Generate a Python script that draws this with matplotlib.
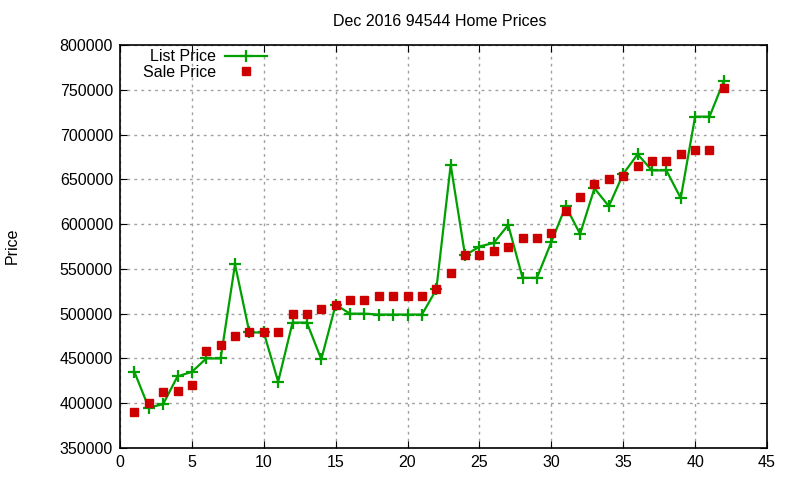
import matplotlib
matplotlib.use("Agg")
import matplotlib.pyplot as plt

# house index 1..42, prices
homes = list(range(1, 43))
list_price = [435000, 395000, 399000, 430000, 435000, 450000, 450000, 555000, 479000, 479000,
              424000, 490000, 490000, 449000, 510000, 500000, 500000, 499000, 499000, 499000,
              499000, 527000, 666000, 565000, 575000, 579000, 599000, 540000, 540000, 580000,
              620000, 589000, 640000, 620000, 656000, 678000, 660000, 660000, 629000, 720000,
              720000, 760000]
sale_price = [390000, 400000, 413000, 414000, 420000, 458000, 465000, 475000, 479000, 479000,
              480000, 500000, 500000, 505000, 510000, 515000, 515000, 520000, 520000, 520000,
              520000, 527000, 545000, 565000, 565000, 570000, 575000, 585000, 585000, 590000,
              615000, 630000, 645000, 650000, 654000, 665000, 670000, 670000, 678000, 683000,
              683000, 752000]

x_ticks = list(range(0, 46, 5))
y_ticks = list(range(350000, 800001, 50000))

plt.rcParams['font.family'] = ['Liberation Sans', 'DejaVu Sans']
plt.rcParams['font.size'] = 11.5

fig = plt.figure(figsize=(8, 4.8), dpi=100)
ax = fig.add_axes([0.15, 1 - 448 / 480, 0.80875, (448 - 45) / 480])

ax.plot(homes, list_price, color="#00a000", lw=1.6, marker="+", ms=9, mew=1.6,
        label="List Price", zorder=3)
ax.plot(homes, sale_price, ls="none", color="#cc0000", marker="s", ms=6,
        label="Sale Price", zorder=4)

ax.set_xlim(0, 45)
ax.set_ylim(350000, 800000)
ax.set_xticks(x_ticks)
ax.set_yticks(y_ticks)
ax.tick_params(direction="in", top=True, right=True, length=5, pad=5)
ax.grid(True, ls=(0, (2, 3)), color="#a0a0a0", lw=1)
for s in ax.spines.values():
    s.set_linewidth(1.2)

fig.text(0.55, 1 - 21 / 480, "Dec 2016 94544 Home Prices", ha="center", va="center")
fig.text(12 / 800, 1 - 246 / 480, "Price", rotation=90, ha="center", va="center")

ax.legend(loc="upper right", bbox_to_anchor=(278 / 800, 1 - 38 / 480),
          bbox_transform=fig.transFigure, frameon=False, markerfirst=False,
          handlelength=2.6, handletextpad=0.6, labelspacing=0.05, borderpad=0.2,
          fontsize=11.5)

fig.savefig("out.png", dpi=100)
